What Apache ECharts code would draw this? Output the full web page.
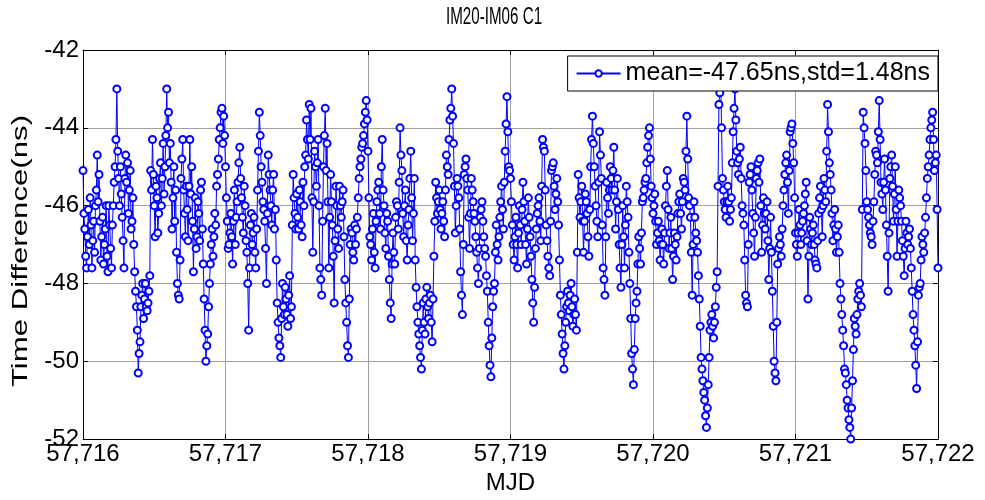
<!DOCTYPE html>
<html>
<head>
<meta charset="utf-8">
<script src="https://cdn.jsdelivr.net/npm/echarts@6/dist/echarts.min.js"></script>
<style>html,body{margin:0;padding:0;background:#fff}#c{width:985px;height:500px}</style>
</head>
<body>
<div id="c"></div>
<script>
// Sampling: each day holds 80 main samples (a) and 80 in-between samples (b),
// taken every stepDay/2 from the day start.
const startMJD = 57716;
const stepDay = 0.0125;
const xTicks = [57716, 57717, 57718, 57719, 57720, 57721, 57722];
const yTicks = [-52, -50, -48, -46, -44, -42];
const titleText = 'IM20-IM06 C1';
const xName = 'MJD';
const yName = 'Time Difference(ns)';
const legendLabel = 'mean=-47.65ns,std=1.48ns';

const day0a = [-45.1,-46.6,-47.6,-46.1,-45.8,-47.6,-46.4,-46.0,-44.7,-45.2,
-47.4,-46.3,-47.0,-46.0,-47.7,-46.5,-47.6,-46.0,-45.0,-43.0,
-45.3,-45.0,-46.3,-47.6,-44.7,-44.9,-45.6,-46.6,-45.8,-47.7,
-48.6,-50.3,-49.5,-48.3,-48.9,-48.0,-48.7,-48.2,-45.1,-44.3,
-46.0,-45.5,-46.7,-45.3,-46.0,-44.4,-45.0,-43.0,-43.6,-44.4,
-46.6,-45.0,-45.6,-48.0,-48.4,-45.3,-44.3,-46.2,-45.5,-46.9,
-44.3,-45.0,-47.7,-45.8,-46.8,-46.2,-45.6,-46.6,-48.4,-50.0,
-49.3,-48.0,-47.0,-47.3,-46.2,-45.5,-44.8,-44.0,-43.5,-43.7];
const day0b = [-46.2,-47.3,-46.8,-47.0,-46.5,-46.9,-47.2,-45.6,-45.9,-46.4,
-46.8,-47.5,-46.6,-47.3,-46.0,-47.1,-46.5,-45.4,-44.3,-44.6,
-46.0,-45.7,-46.9,-45.3,-45.4,-46.2,-45.1,-46.4,-47.0,-48.2,
-49.2,-49.8,-48.6,-48.0,-48.4,-48.6,-48.5,-47.8,-45.6,-45.2,
-46.8,-45.8,-46.2,-44.9,-45.3,-45.7,-44.2,-44.0,-44.9,-45.4,
-45.8,-46.4,-47.2,-48.3,-47.4,-44.8,-45.6,-46.8,-46.1,-45.5,
-45.7,-46.4,-46.6,-47.1,-45.9,-46.9,-45.4,-47.5,-49.2,-49.6,
-48.6,-47.5,-46.6,-46.8,-46.5,-45.2,-44.3,-43.6,-44.4,-44.2];
const day1a = [-45.0,-46.4,-47.0,-46.2,-47.5,-45.6,-46.3,-45.4,-44.5,-45.8,
-46.7,-46.0,-47.2,-49.2,-46.5,-47.0,-46.3,-47.6,-45.6,-43.6,
-45.0,-45.9,-46.4,-48.0,-44.7,-45.6,-46.5,-45.2,-46.1,-48.5,
-49.4,-49.9,-48.0,-48.8,-48.4,-49.1,-47.8,-48.6,-45.2,-46.2,
-45.7,-46.6,-45.9,-46.8,-46.0,-44.7,-44.3,-43.4,-43.5,-47.2,
-44.6,-45.5,-44.3,-47.6,-48.3,-45.0,-43.5,-44.4,-47.6,-45.2,
-46.5,-48.5,-45.5,-46.6,-45.5,-46.3,-45.6,-47.9,-49.0,-49.9,
-47.0,-46.7,-47.4,-47.0,-46.3,-45.3,-44.8,-44.4,-43.9,-43.3];
const day1b = [-45.8,-47.1,-46.7,-46.8,-46.4,-47.0,-45.9,-44.9,-45.3,-46.3,
-45.5,-46.9,-48.0,-47.6,-46.2,-46.7,-47.2,-46.6,-44.6,-44.2,
-45.4,-46.1,-47.1,-46.2,-45.2,-46.0,-45.6,-46.6,-47.4,-49.0,
-49.6,-48.9,-48.6,-48.1,-48.8,-48.3,-48.9,-46.5,-45.8,-46.6,
-46.3,-45.6,-46.5,-45.4,-45.0,-43.8,-44.8,-44.3,-45.8,-45.9,
-45.0,-44.9,-46.0,-47.9,-46.4,-44.2,-45.1,-45.9,-46.3,-45.9,
-47.3,-46.9,-46.0,-47.1,-46.0,-45.9,-46.8,-48.5,-49.6,-48.4,
-46.6,-47.2,-46.5,-46.6,-45.8,-45.0,-44.5,-44.2,-43.6,-43.8];
const day2a = [-44.6,-46.8,-47.4,-46.2,-47.6,-45.9,-45.4,-46.6,-44.3,-46.0,
-47.1,-46.4,-47.9,-48.9,-46.7,-47.5,-45.9,-46.6,-44.0,-45.1,
-46.8,-45.6,-47.4,-46.1,-44.6,-46.9,-45.3,-48.1,-49.0,-49.6,
-50.2,-48.5,-49.3,-48.1,-48.9,-48.3,-49.5,-47.3,-45.4,-46.2,
-45.6,-46.6,-45.9,-46.8,-44.7,-45.2,-43.8,-43.0,-44.4,-46.7,
-45.3,-45.8,-47.7,-48.8,-45.2,-44.8,-45.6,-47.1,-45.3,-45.9,
-46.4,-47.2,-48.0,-46.3,-45.9,-46.8,-47.3,-48.2,-49.6,-50.4,
-48.6,-48.0,-46.5,-47.4,-46.3,-45.5,-46.6,-44.6,-43.2,-45.0];
const day2b = [-45.8,-47.0,-46.6,-47.2,-46.4,-45.6,-46.2,-45.0,-45.6,-46.7,
-46.2,-47.3,-48.5,-47.5,-47.2,-46.3,-46.0,-45.4,-44.7,-46.2,
-46.0,-46.9,-46.5,-45.3,-45.8,-46.2,-47.4,-48.6,-49.3,-49.9,
-49.2,-49.0,-48.4,-48.6,-48.5,-49.0,-48.4,-46.4,-45.8,-45.9,
-46.1,-46.2,-46.4,-45.6,-45.0,-44.3,-43.5,-43.7,-45.5,-46.0,
-45.5,-46.6,-48.3,-47.0,-45.0,-45.3,-46.3,-46.2,-45.6,-46.2,
-46.8,-47.6,-47.1,-46.1,-46.4,-47.1,-47.8,-49.0,-50.1,-49.4,
-48.2,-47.2,-47.0,-46.8,-45.9,-46.1,-45.4,-43.9,-44.1,-45.1];
const day3a = [-45.3,-46.5,-47.4,-46.3,-47.6,-46.0,-47.0,-45.4,-46.4,-47.5,
-45.8,-46.8,-47.9,-49.0,-47.1,-46.2,-45.8,-46.9,-44.3,-44.6,
-46.5,-47.3,-47.8,-45.1,-44.9,-46.1,-45.3,-46.5,-48.3,-49.3,
-50.2,-49.0,-48.2,-48.7,-48.0,-49.1,-48.4,-49.2,-45.2,-46.3,
-45.5,-47.2,-45.7,-46.2,-47.3,-45.0,-43.7,-45.0,-46.0,-46.8,
-44.1,-45.3,-47.6,-48.3,-45.4,-46.2,-45.0,-45.6,-44.5,-46.6,
-45.3,-47.0,-48.1,-46.0,-47.6,-45.5,-46.3,-48.0,-49.8,-50.6,
-48.9,-48.2,-46.8,-47.5,-45.9,-45.6,-45.3,-44.5,-44.0,-45.5];
const day3b = [-45.9,-47.0,-46.8,-47.0,-46.7,-46.5,-46.1,-45.9,-47.0,-46.6,
-46.3,-47.3,-48.5,-48.1,-46.6,-46.0,-46.4,-45.5,-44.5,-45.6,
-46.9,-47.6,-46.4,-45.0,-45.5,-45.7,-45.9,-47.4,-48.8,-49.8,
-49.6,-48.6,-48.5,-48.3,-48.6,-48.8,-48.8,-47.2,-45.8,-45.9,
-46.4,-46.4,-45.9,-46.8,-46.1,-44.3,-44.4,-45.5,-46.4,-45.4,
-44.7,-46.5,-47.9,-46.8,-45.8,-45.6,-45.3,-45.1,-45.6,-45.9,
-46.1,-47.6,-47.0,-46.8,-46.5,-45.9,-47.2,-48.9,-50.2,-49.7,
-48.5,-47.5,-47.1,-46.7,-45.8,-45.4,-44.9,-44.2,-44.8,-45.8];
const day4a = [-46.2,-45.7,-47.0,-46.4,-47.4,-46.6,-47.5,-46.0,-45.1,-47.1,
-46.3,-47.9,-46.7,-47.4,-46.2,-45.7,-46.6,-45.3,-45.6,-43.7,
-45.8,-46.3,-48.3,-45.9,-46.7,-47.2,-48.4,-49.9,-50.5,-51.0,
-51.7,-50.6,-49.2,-48.8,-49.4,-48.6,-47.7,-43.4,-42.8,-45.3,
-45.9,-46.3,-45.5,-46.4,-45.8,-44.1,-43.0,-44.6,-45.2,-44.5,
-46.0,-46.5,-48.3,-48.6,-45.4,-45.0,-46.2,-47.3,-45.3,-44.9,
-44.8,-47.2,-45.8,-46.6,-45.9,-47.9,-46.3,-48.2,-50.0,-50.5,
-47.5,-46.8,-47.3,-46.0,-45.2,-44.7,-46.2,-44.1,-43.9,-44.9];
const day4b = [-46.0,-46.4,-46.7,-46.9,-47.0,-47.0,-46.7,-45.5,-46.1,-46.7,
-47.1,-47.3,-47.0,-46.8,-45.9,-46.2,-45.9,-45.4,-44.6,-44.8,
-46.0,-47.2,-47.0,-46.3,-46.9,-47.8,-49.1,-50.2,-50.8,-51.4,
-51.2,-49.9,-49.0,-49.1,-49.0,-48.1,-45.5,-43.1,-44.0,-45.6,
-46.1,-45.9,-45.9,-46.1,-44.9,-43.5,-43.8,-44.9,-44.8,-45.3,
-46.2,-47.4,-48.5,-47.0,-45.2,-45.6,-46.7,-46.3,-45.1,-45.4,
-46.0,-46.5,-46.2,-46.2,-46.9,-47.1,-47.2,-49.1,-50.3,-49.0,
-47.1,-47.0,-46.6,-45.6,-44.9,-45.4,-45.1,-44.0,-44.4,-45.8];
const day5a = [-46.7,-47.3,-46.1,-47.0,-46.4,-46.0,-45.4,-48.4,-46.3,-47.0,
-46.5,-47.4,-47.6,-46.2,-45.5,-46.8,-45.3,-45.9,-43.4,-44.9,
-45.6,-46.9,-46.1,-47.2,-46.5,-48.0,-48.8,-49.6,-50.3,-51.0,
-51.5,-52.0,-50.5,-48.9,-49.3,-48.4,-48.0,-48.6,-43.6,-44.4,
-45.9,-46.3,-46.7,-47.0,-45.9,-44.6,-44.9,-43.3,-45.4,-46.1,
-44.8,-46.5,-48.2,-45.3,-44.7,-46.4,-45.0,-47.3,-45.6,-46.0,
-46.9,-47.8,-46.4,-47.0,-46.6,-47.6,-48.8,-49.6,-50.7,-48.3,
-48.0,-46.8,-47.2,-46.3,-45.3,-44.7,-44.0,-43.6,-45.1,-44.7];
const day5b = [-47.0,-46.7,-46.5,-46.7,-46.2,-45.7,-46.9,-47.3,-46.6,-46.7,
-47.0,-47.5,-46.9,-45.8,-46.1,-46.0,-45.6,-44.6,-44.1,-45.2,
-46.2,-46.5,-46.6,-46.8,-47.2,-48.4,-49.2,-50.2,-50.6,-51.2,
-51.7,-51.2,-49.7,-49.1,-48.8,-48.2,-48.3,-46.1,-44.0,-45.1,
-46.1,-46.5,-46.8,-46.4,-45.2,-44.7,-44.1,-44.3,-45.7,-45.4,
-45.6,-47.3,-46.7,-45.0,-45.5,-45.7,-46.1,-46.4,-45.8,-46.4,
-47.3,-47.1,-46.7,-46.8,-47.1,-48.2,-49.2,-50.1,-49.5,-48.1,
-47.4,-47.0,-46.7,-45.8,-45.0,-44.3,-43.8,-44.3,-44.9,-46.1];
const lastValue = -47.6; // sample at MJD 57722

const dayA = [day0a, day1a, day2a, day3a, day4a, day5a];
const dayB = [day0b, day1b, day2b, day3b, day4b, day5b];
const values = [];
dayA.forEach((a, d) => a.forEach((v, i) => { values.push(v, dayB[d][i]); }));
values.push(lastValue);
const seriesData = values.map((v, k) => [startMJD + k * stepDay / 2, v]);

const fmtMJD = v => String(v).replace(/\B(?=(\d{3})+(?!\d))/g, ',');
const font = '"Liberation Sans", Arial, sans-serif';

const chart = echarts.init(document.getElementById('c'), null, {renderer: 'canvas'});
chart.setOption({
  animation: false,
  backgroundColor: '#fff',
  graphic: [{
    type: 'text', x: 494, y: 18, scaleX: 0.66, scaleY: 1, z: 10,
    style: {text: titleText, fontFamily: font, fontSize: 23, fill: '#000', align: 'center', verticalAlign: 'middle'}
  }, {
    type: 'text', x: 21, y: 251, rotation: Math.PI / 2, scaleX: 1.3, scaleY: 0.95, z: 10,
    style: {text: yName, fontFamily: font, fontSize: 24, fill: '#000', align: 'center', verticalAlign: 'middle'}
  }],
  legend: {
    right: 47, top: 56, padding: [5, 8, 5, 8],
    backgroundColor: '#fff', borderColor: '#000', borderWidth: 1,
    itemWidth: 44, itemHeight: 8,
    textStyle: {fontFamily: font, fontSize: 25, color: '#000'},
    data: [legendLabel]
  },
  grid: {left: 83, right: 47, top: 50, bottom: 57},
  xAxis: [{
    type: 'value', min: xTicks[0], max: xTicks[xTicks.length - 1], interval: 1,
    name: xName, nameLocation: 'middle', nameGap: 31,
    nameTextStyle: {fontFamily: font, fontSize: 24, color: '#000'},
    axisLine: {lineStyle: {color: '#000', width: 1}},
    axisTick: {inside: true, length: 5, lineStyle: {color: '#000'}},
    axisLabel: {fontFamily: font, fontSize: 24, color: '#000', margin: 3, formatter: fmtMJD},
    splitLine: {show: true, lineStyle: {color: '#a0a0a0', width: 1}}
  }, {
    type: 'value', position: 'top', min: xTicks[0], max: xTicks[xTicks.length - 1], interval: 1,
    axisLine: {lineStyle: {color: '#000', width: 1}},
    axisTick: {inside: true, length: 5, lineStyle: {color: '#000'}},
    axisLabel: {show: false}, splitLine: {show: false}
  }],
  yAxis: [{
    type: 'value', min: yTicks[0], max: yTicks[yTicks.length - 1], interval: 2,
    axisLine: {show: true, lineStyle: {color: '#000', width: 1}},
    axisTick: {show: true, inside: true, length: 5, lineStyle: {color: '#000'}},
    axisLabel: {fontFamily: font, fontSize: 24, color: '#000', margin: 4},
    splitLine: {show: true, lineStyle: {color: '#a0a0a0', width: 1}}
  }, {
    type: 'value', position: 'right', min: yTicks[0], max: yTicks[yTicks.length - 1], interval: 2,
    axisLine: {show: true, lineStyle: {color: '#000', width: 1}},
    axisTick: {show: true, inside: true, length: 5, lineStyle: {color: '#000'}},
    axisLabel: {show: false}, splitLine: {show: false}
  }],
  series: [{
    name: legendLabel, type: 'line', data: seriesData,
    xAxisIndex: 0, yAxisIndex: 0,
    symbol: 'emptyCircle', symbolSize: 7, showAllSymbol: true,
    lineStyle: {color: '#0000ff', width: 1},
    itemStyle: {color: '#0000ff', borderColor: '#0000ff', borderWidth: 1},
    clip: true
  }]
});
</script>
</body>
</html>
